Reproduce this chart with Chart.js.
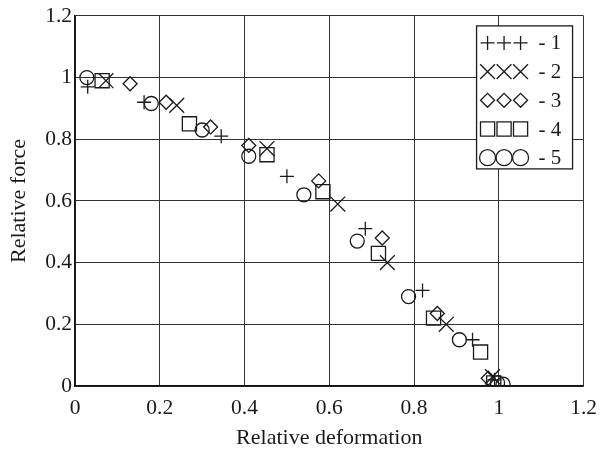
<!DOCTYPE html>
<html>
<head>
<meta charset="utf-8">
<script src="https://cdn.jsdelivr.net/npm/chart.js@4"></script>
<style>
  html, body { margin: 0; padding: 0; background: #fff; }
  #wrap { width: 606px; height: 451px; }
</style>
</head>
<body>
<div id="wrap"><canvas id="graf"></canvas></div>
<script>
// datos
const deform1 = [0.03, 0.163, 0.345, 0.50, 0.685, 0.82, 0.938, 0.99];
const force1  = [0.97, 0.92, 0.81, 0.68, 0.51, 0.31, 0.15, 0.02];
const deform2 = [0.073, 0.24, 0.453, 0.62, 0.737, 0.876, 0.985];
const force2  = [0.99, 0.91, 0.77, 0.59, 0.40, 0.20, 0.03];
const deform3 = [0.13, 0.215, 0.32, 0.41, 0.575, 0.725, 0.855, 0.975];
const force3  = [0.98, 0.92, 0.84, 0.78, 0.665, 0.48, 0.235, 0.025];
const deform4 = [0.064, 0.27, 0.453, 0.585, 0.716, 0.846, 0.957, 0.988];
const force4  = [0.99, 0.85, 0.75, 0.63, 0.43, 0.22, 0.11, 0.01];
const deform5 = [0.028, 0.18, 0.30, 0.41, 0.54, 0.666, 0.787, 0.907, 0.997, 1.01];
const force5  = [1.0, 0.916, 0.83, 0.745, 0.62, 0.47, 0.29, 0.15, 0.01, 0.006];

const seriesNames = ['1', '2', '3', '4', '5'];
const xTicks = [0, 0.2, 0.4, 0.6, 0.8, 1, 1.2];
const yTicks = [0, 0.2, 0.4, 0.6, 0.8, 1, 1.2];

const tinta = '#1a1a1a';
const fuente = '"Liberation Serif", "Times New Roman", serif';

// estilo de cada serie: marcador y radio
const estilos = [
  { style: 'cross', r: 7 },
  { style: 'crossRot', r: 10.5 },
  { style: 'rectRot', r: 7 },
  { style: 'rect', r: 10 },
  { style: 'circle', r: 7 }
];

const xs = [deform1, deform2, deform3, deform4, deform5];
const ys = [force1, force2, force3, force4, force5];

const datasets = xs.map((d, i) => ({
  label: seriesNames[i],
  data: d.map((x, j) => ({ x: x, y: ys[i][j] })),
  showLine: false,
  pointStyle: estilos[i].style,
  pointRadius: estilos[i].r,
  pointHoverRadius: estilos[i].r,
  pointBorderColor: tinta,
  pointBackgroundColor: 'rgba(0,0,0,0)',
  pointBorderWidth: 1.3
}));

// leyenda propia: tres marcadores por fila y el texto "- n"
const leyenda = {
  id: 'leyenda',
  afterDraw(chart) {
    const ctx = chart.ctx;
    const area = chart.chartArea;
    const x0 = area.right - 107, y0 = area.top + 10;
    const w = 96, h = 143;
    ctx.save();
    ctx.fillStyle = '#fff';
    ctx.fillRect(x0, y0, w, h);
    ctx.strokeStyle = tinta;
    ctx.lineWidth = 1.3;
    ctx.strokeRect(x0, y0, w, h);
    estilos.forEach((e, i) => {
      const cy = y0 + 17 + i * 28.7;
      const r = e.style === 'circle' ? 8 : e.r;
      for (let k = 0; k < 3; k++) {
        ctx.strokeStyle = tinta;
        ctx.fillStyle = 'rgba(0,0,0,0)';
        ctx.lineWidth = 1.3;
        Chart.helpers.drawPoint(ctx, { pointStyle: e.style, radius: r, borderWidth: 1.3 }, x0 + 11 + k * 16.5, cy);
      }
      ctx.font = '21px ' + fuente;
      ctx.textBaseline = 'middle';
      ctx.fillStyle = tinta;
      ctx.fillText('- ' + seriesNames[i], x0 + 62, cy + 1);
    });
    ctx.restore();
  }
};

const ctx = document.getElementById('graf').getContext('2d');
new Chart(ctx, {
  type: 'scatter',
  data: { datasets: datasets },
  options: {
    responsive: true,
    maintainAspectRatio: false,
    animation: false,
    layout: { padding: { top: 14, right: 22, left: 6, bottom: 0 } },
    plugins: {
      legend: { display: false },
      tooltip: { enabled: false }
    },
    scales: {
      x: {
        type: 'linear',
        min: 0, max: 1.2,
        afterBuildTicks: s => { s.ticks = xTicks.map(v => ({ value: v })); },
        afterFit: s => { s.height = 65; },
        grid: { color: '#333', lineWidth: 1, drawTicks: false },
        border: { color: '#111', width: 1.5 },
        ticks: {
          color: tinta, padding: 9,
          font: { family: fuente, size: 21.5 },
          callback: v => String(+v.toFixed(1))
        },
        title: {
          display: true, text: 'Relative deformation', color: tinta,
          font: { family: fuente, size: 22 }, padding: { top: 0, bottom: 0 }
        }
      },
      y: {
        type: 'linear',
        min: 0, max: 1.2,
        afterBuildTicks: s => { s.ticks = yTicks.map(v => ({ value: v })); },
        afterFit: s => { s.width = 69; },
        grid: { color: '#333', lineWidth: 1, drawTicks: false },
        border: { color: '#111', width: 1.5 },
        ticks: {
          color: tinta, padding: 3,
          font: { family: fuente, size: 21.5 },
          callback: v => String(+v.toFixed(1))
        },
        title: {
          display: true, text: 'Relative force', color: tinta,
          font: { family: fuente, size: 22 }, padding: { top: 0, bottom: 0 }
        }
      }
    }
  },
  plugins: [leyenda]
});
</script>
</body>
</html>
